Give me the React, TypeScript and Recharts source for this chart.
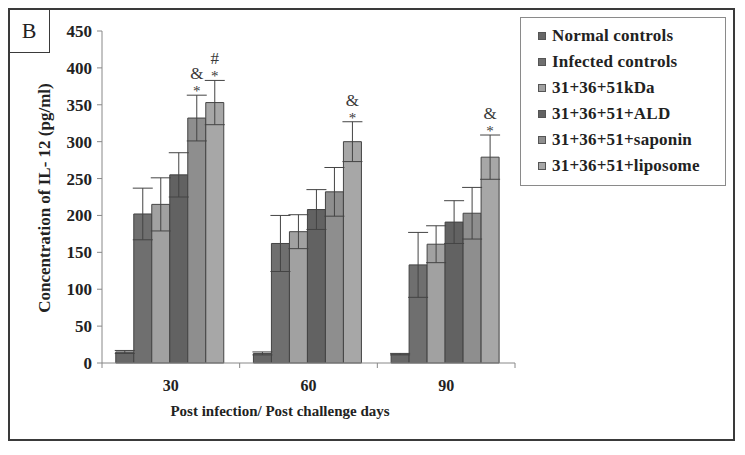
import { BarChart, Bar, XAxis, YAxis, ErrorBar, LabelList, Legend } from 'recharts';

const days = ['30', '60', '90'];

const normalControls = [15, 13, 12];
const infectedControls = [202, 162, 133];
const kda = [215, 178, 161];
const ald = [255, 208, 191];
const saponin = [332, 232, 203];
const liposome = [353, 300, 279];

const normalErr = [2, 2, 1];
const infectedErr = [35, 38, 44];
const kdaErr = [36, 23, 25];
const aldErr = [30, 27, 29];
const saponinErr = [31, 33, 35];
const liposomeErr = [30, 27, 30];

// significance marks shown above the star
const saponinMarks = ['&', '', ''];
const liposomeMarks = ['#', '&', '&'];

const yTicks = [0, 50, 100, 150, 200, 250, 300, 350, 400, 450];

const series = [
  { key: 'normal', name: 'Normal controls', color: '#676767', values: normalControls, err: normalErr, marks: null },
  { key: 'infected', name: 'Infected controls', color: '#6f6f6f', values: infectedControls, err: infectedErr, marks: null },
  { key: 'kda', name: '31+36+51kDa', color: '#a1a1a1', values: kda, err: kdaErr, marks: null },
  { key: 'ald', name: '31+36+51+ALD', color: '#626262', values: ald, err: aldErr, marks: null },
  { key: 'saponin', name: '31+36+51+saponin', color: '#8e8e8e', values: saponin, err: saponinErr, marks: saponinMarks },
  { key: 'liposome', name: '31+36+51+liposome', color: '#a7a7a7', values: liposome, err: liposomeErr, marks: liposomeMarks },
];

const data = days.map((d, i) => {
  const row: any = { day: d };
  series.forEach((s) => {
    row[s.key] = s.values[i];
    row[s.key + 'Err'] = s.err[i];
  });
  return row;
});

const FONT = '"Liberation Serif", "DejaVu Serif", serif';
const W = 745;
const H = 455;
const margin = { top: 31, right: 230, left: 42, bottom: 62 };
const Y_W = 60;
const X_H = 30;
const PLOT_L = margin.left + Y_W;
const PLOT_R = W - margin.right;
const PLOT_B = H - margin.bottom - X_H;
const PLOT_H = PLOT_B - margin.top;
const BAND = (PLOT_R - PLOT_L) / days.length;
const Y_MAX = 450;

const XTick = ({ x, payload, index }: any) => (
  <g>
    <line x1={x - BAND / 2} x2={x - BAND / 2} y1={PLOT_B} y2={PLOT_B + 5} stroke="#888" />
    {index === days.length - 1 && (
      <line x1={x + BAND / 2} x2={x + BAND / 2} y1={PLOT_B} y2={PLOT_B + 5} stroke="#888" />
    )}
    <text x={x} y={PLOT_B + 28} textAnchor="middle" fontFamily={FONT} fontWeight="bold" fontSize={16} fill="#222">
      {payload.value}
    </text>
  </g>
);

const makeMarks = (marks: string[], err: number[]) => (props: any) => {
  const { x, y, width, index } = props;
  const sym = marks[index];
  if (!sym) return null;
  const top = y - (err[index] / Y_MAX) * PLOT_H;
  const cx = x + width / 2;
  return (
    <g fontFamily={FONT} fill="#3a3a3a" textAnchor="middle">
      <text x={cx} y={top + 1} fontSize={15}>*</text>
      <text x={cx} y={top - 16} fontSize={17}>{sym}</text>
    </g>
  );
};

const LegendBox = () => (
  <div
    style={{
      border: '1px solid #8a8a8a',
      padding: '5px 0 6px 17px',
      background: '#fff',
      fontFamily: FONT,
      fontWeight: 'bold',
      fontSize: 17,
      color: '#222',
    }}
  >
    {series.map((s) => (
      <div key={s.key} style={{ display: 'flex', alignItems: 'center', height: 26 }}>
        <span
          style={{
            display: 'inline-block',
            width: 6,
            height: 6,
            background: s.color,
            border: '1px solid #555',
            marginRight: 6,
          }}
        />
        <span style={{ letterSpacing: 0.2 }}>{s.name}</span>
      </div>
    ))}
  </div>
);

export default function App() {
  return (
    <div style={{ position: 'fixed', left: 0, top: 0, width: W, height: H, background: '#fff', overflow: 'hidden' }}>
      <div
        style={{
          position: 'absolute',
          left: 8,
          top: 8,
          width: 727,
          height: 433,
          border: '2px solid #3a3a3a',
          boxSizing: 'border-box',
        }}
      />
      <div
        style={{
          position: 'absolute',
          left: 8,
          top: 8,
          width: 42,
          height: 45,
          border: '1.5px solid #3a3a3a',
          boxSizing: 'border-box',
          fontFamily: FONT,
          fontSize: 22,
          color: '#222',
          display: 'flex',
          alignItems: 'center',
          justifyContent: 'center',
        }}
      >
        B
      </div>
      <div style={{ position: 'absolute', left: 0, top: 0 }}>
        <BarChart width={W} height={H} data={data} margin={margin} barCategoryGap="10%" barGap={0}>
          <XAxis
            dataKey="day"
            height={X_H}
            tickLine={false}
            axisLine={{ stroke: '#888' }}
            tick={<XTick />}
            interval={0}
          />
          <YAxis
            width={Y_W}
            domain={[0, Y_MAX]}
            ticks={yTicks}
            interval={0}
            tickSize={5}
            tickMargin={5}
            tickLine={{ stroke: '#888' }}
            axisLine={{ stroke: '#888' }}
            tick={{ fontFamily: FONT, fontWeight: 'bold', fontSize: 17, fill: '#222' }}
          />
          <Legend
            layout="vertical"
            align="center"
            verticalAlign="middle"
            content={<LegendBox />}
            wrapperStyle={{ left: 520, top: 17, width: 206 }}
          />
          {series.map((s) => (
            <Bar
              key={s.key}
              dataKey={s.key}
              name={s.name}
              fill={s.color}
              stroke="#444"
              strokeWidth={1}
              isAnimationActive={false}
            >
              <ErrorBar dataKey={s.key + 'Err'} width={10} stroke="#444" strokeWidth={1} />
              {s.marks && <LabelList dataKey={s.key} content={makeMarks(s.marks, s.err)} />}
            </Bar>
          ))}
        </BarChart>
      </div>
      <div
        style={{
          position: 'absolute',
          left: 45,
          top: 198,
          transform: 'translate(-50%, -50%) rotate(-90deg)',
          whiteSpace: 'nowrap',
          fontFamily: FONT,
          fontWeight: 'bold',
          fontSize: 17,
          color: '#222',
        }}
      >
        Concentration of IL- 12 (pg/ml)
      </div>
      <div
        style={{
          position: 'absolute',
          left: 280,
          top: 411,
          transform: 'translate(-50%, -50%)',
          whiteSpace: 'nowrap',
          fontFamily: FONT,
          fontWeight: 'bold',
          fontSize: 15,
          color: '#222',
        }}
      >
        Post infection/ Post challenge days
      </div>
    </div>
  );
}
